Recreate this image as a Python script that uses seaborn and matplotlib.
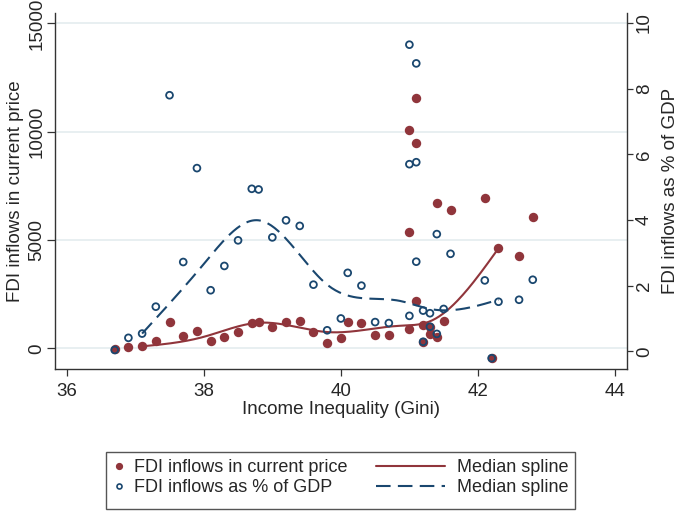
import numpy as np
import matplotlib
matplotlib.use("Agg")
import matplotlib.pyplot as plt
from matplotlib.lines import Line2D
from matplotlib.patches import Rectangle
import seaborn as sns

# Income inequality (Gini) and the two FDI measures
gini = [36.7, 36.9, 37.1, 37.3, 37.5, 37.7, 37.9, 38.1, 38.3, 38.5,
        38.7, 38.8, 39.0, 39.2, 39.4, 39.6, 39.8, 40.0, 40.1, 40.3,
        40.5, 40.7, 41.0, 41.0, 41.0, 41.1, 41.1, 41.1, 41.2, 41.2,
        41.3, 41.3, 41.4, 41.4, 41.5, 41.6, 42.1, 42.2, 42.3, 42.6, 42.8]
fdi_current = [-50, 60, 90, 350, 1230, 550, 785, 320, 508, 767,
               1180, 1215, 970, 1230, 1275, 750, 260, 475, 1200, 1170,
               630, 630, 905, 5385, 10065, 11570, 9490, 2170, 1090, 290,
               660, 1000, 6720, 535, 1245, 6385, 6940, -460, 4615, 4260, 6050]
fdi_gdp = [0.04, 0.41, 0.54, 1.36, 7.80, 2.72, 5.58, 1.86, 2.60, 3.38,
           4.95, 4.93, 3.47, 3.99, 3.82, 2.03, 0.64, 1.00, 2.39, 2.00,
           0.89, 0.86, 1.08, 9.34, 5.70, 8.77, 5.76, 2.73, 1.24, 0.29,
           1.16, 0.75, 3.57, 0.53, 1.29, 2.97, 2.16, -0.21, 1.51, 1.57, 2.18]

x_ticks = [36, 38, 40, 42, 44]
left_ticks = [0, 5000, 10000, 15000]
right_ticks = [0, 2, 4, 6, 8, 10]

RED = "#90353B"
BLUE = "#1A476F"


def median_spline(x, y, bands=7, n=200):
    # cross medians in equal-width bands, then a natural cubic spline through them
    x = np.asarray(x, float)
    y = np.asarray(y, float)
    edges = np.linspace(x.min(), x.max(), bands + 1)
    band = np.clip(np.searchsorted(edges, x, side="right") - 1, 0, bands - 1)
    used = [b for b in range(bands) if np.any(band == b)]
    kx = np.array([np.median(x[band == b]) for b in used])
    ky = np.array([np.median(y[band == b]) for b in used])
    k = len(kx)
    h = np.diff(kx)
    A = np.zeros((k, k))
    r = np.zeros(k)
    A[0, 0] = A[-1, -1] = 1
    for i in range(1, k - 1):
        A[i, i - 1] = h[i - 1]
        A[i, i] = 2 * (h[i - 1] + h[i])
        A[i, i + 1] = h[i]
        r[i] = 6 * ((ky[i + 1] - ky[i]) / h[i] - (ky[i] - ky[i - 1]) / h[i - 1])
    m = np.linalg.solve(A, r)
    xs = np.linspace(kx[0], kx[-1], n)
    j = np.clip(np.searchsorted(kx, xs) - 1, 0, k - 2)
    t0 = kx[j + 1] - xs
    t1 = xs - kx[j]
    hj = h[j]
    ys = ((m[j] * t0 ** 3 + m[j + 1] * t1 ** 3) / (6 * hj)
          + (ky[j] / hj - m[j] * hj / 6) * t0
          + (ky[j + 1] / hj - m[j + 1] * hj / 6) * t1)
    return xs, ys


sns.set_style("white")
plt.rcParams["font.family"] = ["Liberation Sans", "DejaVu Sans"]
FS = 13.5
LFS = 13

fig = plt.figure(figsize=(6.85, 5.11), dpi=100)
ax = fig.add_axes([55 / 685, 1 - 369 / 511, 572 / 685, 356 / 511])
ax2 = ax.twinx()

# gridlines from the left axis
ax.set_axisbelow(True)
ax.grid(axis="y", color="#E6EEF0", linewidth=1.3)
ax.grid(axis="x", visible=False)

sns.scatterplot(x=gini, y=fdi_current, ax=ax, color=RED, s=46,
                linewidth=0, zorder=3)
sx, sy = median_spline(gini, fdi_current)
sns.lineplot(x=sx, y=sy, ax=ax, color=RED, linewidth=1.5, zorder=4)

sns.scatterplot(x=gini, y=fdi_gdp, ax=ax2, facecolor="none", edgecolor=BLUE,
                s=24, linewidth=1.3, zorder=3)
bx, by = median_spline(gini, fdi_gdp)
sns.lineplot(x=bx, y=by, ax=ax2, color=BLUE, linewidth=1.5,
             linestyle=(0, (7, 3.5)), zorder=4)

ax.set_xlim(35.829, 44.175)
ax.set_ylim(-956, 15480)
ax2.set_ylim(-0.539, 10.305)
ax.set_xticks(x_ticks)
ax.set_yticks(left_ticks)
ax2.set_yticks(right_ticks)
ax.set_xticklabels([str(t) for t in x_ticks])
ax.set_yticklabels([str(t) for t in left_ticks])
ax2.set_yticklabels([str(t) for t in right_ticks])

for a in (ax, ax2):
    a.spines["top"].set_visible(False)
    for s in a.spines.values():
        s.set_color("#333333")
        s.set_linewidth(1.0)
ax.spines["right"].set_visible(False)
ax2.spines["left"].set_visible(False)
ax2.spines["bottom"].set_visible(False)

ax.tick_params(axis="x", bottom=True, direction="out", length=5, width=0.9,
               color="#333333", labelsize=FS, pad=5)
ax.tick_params(axis="y", left=True, direction="out", length=5.5, width=0.9,
               color="#333333", labelsize=FS, pad=1.5, labelrotation=90)
ax2.tick_params(axis="y", right=True, direction="out", length=4.5, width=0.9,
                color="#333333", labelsize=FS, pad=2, labelrotation=90)
for lbl in ax.get_yticklabels() + ax2.get_yticklabels():
    lbl.set_va("center")

ax.set_xlabel("Income Inequality (Gini)", fontsize=FS)
ax.set_ylabel("FDI inflows in current price", fontsize=FS)
ax2.set_ylabel("FDI inflows as % of GDP", fontsize=FS)
ax.xaxis.set_label_coords(0.5, -0.09)
ax.yaxis.set_label_coords(-0.055, 0.5)
ax2.yaxis.set_label_coords(1.061, 0.5)

# legend: markers on the left, splines on the right, inside one frame
fig.patches.append(Rectangle((106 / 685, 1 - 509 / 511), 469 / 685, 57 / 511,
                             transform=fig.transFigure, fill=False,
                             edgecolor="#555555", linewidth=1.0))
mark_handles = [
    Line2D([], [], linestyle="none", marker="o", markersize=4.2,
           markerfacecolor=RED, markeredgecolor=RED),
    Line2D([], [], linestyle="none", marker="o", markersize=3.6,
           markerfacecolor="none", markeredgecolor=BLUE, markeredgewidth=1.2),
]
line_handles = [
    Line2D([], [], color=RED, linewidth=1.5),
    Line2D([], [], color=BLUE, linewidth=1.5, linestyle=(0, (7, 3.5))),
]
leg1 = fig.legend(mark_handles,
                  ["FDI inflows in current price", "FDI inflows as % of GDP"],
                  loc="upper left", bbox_to_anchor=(106 / 685, 1 - 452 / 511),
                  frameon=False, fontsize=LFS, borderpad=0.4, handlelength=0.6,
                  handletextpad=0.55, labelspacing=0.18, borderaxespad=0)
leg2 = fig.legend(line_handles, ["Median spline", "Median spline"],
                  loc="upper left", bbox_to_anchor=(369 / 685, 1 - 452 / 511),
                  frameon=False, fontsize=LFS, borderpad=0.4, handlelength=3.8,
                  handletextpad=0.65, labelspacing=0.18, borderaxespad=0)

fig.savefig("out.png", dpi=100, facecolor="white")
